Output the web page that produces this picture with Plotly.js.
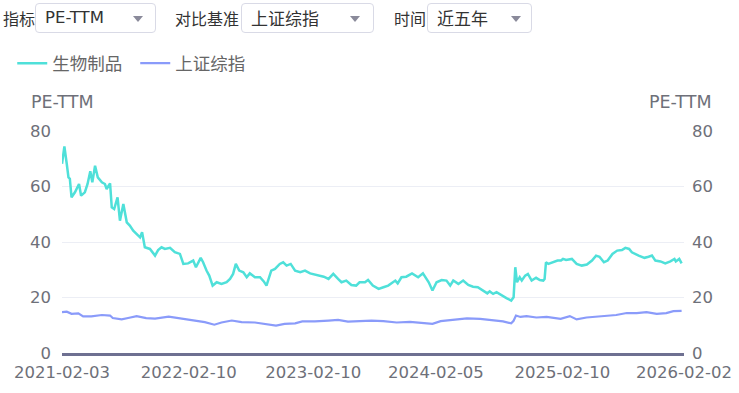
<!DOCTYPE html>
<html>
<head>
<meta charset="utf-8">
<script src="https://cdn.plot.ly/plotly-3.0.1.min.js"></script>
<style>
  html, body { margin: 0; padding: 0; background: #fff; }
  body { width: 739px; height: 393px; position: relative; overflow: hidden;
         font-family: "Noto Sans CJK SC", "Noto Sans", sans-serif; }
  #chart { position: absolute; left: 0; top: 0; width: 739px; height: 393px; }
  .lbl { position: absolute; top: 4px; height: 28px; line-height: 28px; font-size: 16px; color: #333; }
  .sel { position: absolute; top: 3px; height: 28px; border: 1px solid #d9dae6; border-radius: 4px;
         background: #fff; font-size: 17px; color: #333; line-height: 28px; box-sizing: content-box; }
  .sel span.t { position: absolute; left: 9px; top: 0; }
  .sel span.en { font-family: "DejaVu Sans", sans-serif; font-size: 16.5px; }
  .sel span.a { position: absolute; top: 12px; width: 0; height: 0;
                border-left: 5px solid transparent; border-right: 5px solid transparent; border-top: 6px solid #8a8a9a; }
</style>
</head>
<body>
<div id="chart"></div>
<div class="lbl" style="left:3px">指标</div>
<div class="sel" style="left:35px;width:119px"><span class="t en">PE-TTM</span><span class="a" style="left:97px"></span></div>
<div class="lbl" style="left:175px">对比基准</div>
<div class="sel" style="left:241px;width:131px"><span class="t">上证综指</span><span class="a" style="left:108px"></span></div>
<div class="lbl" style="left:394px">时间</div>
<div class="sel" style="left:427px;width:103px"><span class="t">近五年</span><span class="a" style="left:83px"></span></div>
<script>
// ---- data ----
const seriesNames = ['生物制品', '上证综指'];
const axisTitle = 'PE-TTM';
const tickDates = ['2021-02-03', '2022-02-10', '2023-02-10', '2024-02-05', '2025-02-10', '2026-02-02'];

const bioDates = [
'2021-02-03','2021-02-10','2021-02-17','2021-02-22','2021-02-26','2021-03-03','2021-03-13','2021-03-25','2021-03-31','2021-04-11',
'2021-04-19','2021-04-27','2021-05-03','2021-05-11','2021-05-19','2021-05-31','2021-06-09','2021-06-14','2021-06-24','2021-06-29',
'2021-07-06','2021-07-16','2021-07-23','2021-08-02','2021-08-12','2021-08-21','2021-08-31','2021-09-10','2021-09-20','2021-09-26',
'2021-10-04','2021-10-19','2021-11-03','2021-11-12','2021-11-22','2021-12-02','2021-12-17','2021-12-31','2022-01-15','2022-01-25',
'2022-02-08','2022-02-23','2022-03-03','2022-03-17','2022-03-24','2022-04-03','2022-04-11','2022-04-21','2022-05-03','2022-05-17',
'2022-06-01','2022-06-11','2022-06-20','2022-06-28','2022-07-08','2022-07-20','2022-07-30','2022-08-08','2022-08-23','2022-09-07',
'2022-09-18','2022-09-26','2022-10-10','2022-10-21','2022-11-04','2022-11-14','2022-11-24','2022-12-06','2022-12-19','2023-01-03',
'2023-01-17','2023-02-01','2023-02-20','2023-03-13','2023-03-27','2023-04-10','2023-04-24','2023-05-04','2023-05-18','2023-06-02',
'2023-06-16','2023-06-26','2023-07-12','2023-07-21','2023-08-04','2023-08-21','2023-09-04','2023-09-18','2023-10-09','2023-10-16',
'2023-10-27','2023-11-10','2023-11-27','2023-12-05','2023-12-15','2023-12-29','2024-01-15','2024-01-26','2024-02-07','2024-02-22',
'2024-03-07','2024-03-18','2024-03-27','2024-04-11','2024-04-25','2024-05-10','2024-05-24','2024-06-07','2024-06-24','2024-07-05',
'2024-07-12','2024-07-22','2024-08-01','2024-08-16','2024-08-30','2024-09-13','2024-09-20','2024-09-25','2024-09-30','2024-10-08',
'2024-10-14','2024-10-24','2024-11-01','2024-11-12','2024-11-25','2024-12-06','2024-12-16','2024-12-20','2024-12-24','2024-12-31',
'2025-01-14','2025-01-27','2025-02-06','2025-02-12','2025-02-21','2025-03-10','2025-03-24','2025-04-08','2025-04-23','2025-05-08',
'2025-05-20','2025-05-30','2025-06-12','2025-06-23','2025-07-07','2025-07-21','2025-08-04','2025-08-14','2025-08-25','2025-09-02',
'2025-09-22','2025-10-09','2025-10-21','2025-10-31','2025-11-10','2025-11-25','2025-12-09','2025-12-24','2026-01-05','2026-01-09',
'2026-01-19','2026-01-26'];
const bioValues = [
68.2,74.4,68.1,63.3,62.8,56.1,57.9,60.9,56.7,57.9,
60.9,65.5,61.5,67.5,63.3,61.5,60.9,59.1,61.1,52.5,
51.9,56.1,47.7,53.7,47.1,45.9,44.1,42.9,41.7,43.5,
38.1,37.5,35.1,37.1,38.1,37.5,37.9,36.3,35.7,32.1,
32.3,33.3,30.9,34.3,32.7,29.7,27.9,24.3,25.5,24.9,
25.5,26.7,28.5,32.1,29.7,29.1,27.3,28.7,27.3,27.3,
25.8,24.3,29.7,30.3,32.1,32.7,31.5,32.1,29.7,29.1,
29.7,28.7,28.2,27.5,26.7,28.5,26.7,25.5,26.1,24.5,
24.3,25.5,25.5,26.3,24.3,23.1,23.7,24.3,26.1,25.1,
27.3,27.5,28.7,28.2,27.3,28.7,25.5,22.5,25.5,26.3,
26.1,24.3,26.1,24.9,26.1,24.5,23.9,23.7,22.2,21.5,
22.2,21.3,21.9,20.7,19.8,18.9,20.1,30.9,25.5,27.3,
26.1,27.9,28.5,26.1,27.1,26.3,26.1,26.7,32.7,32.1,
32.7,33.3,33.3,33.9,33.5,33.9,32.1,31.5,31.9,33.3,
35.1,34.7,32.7,33.3,35.7,36.9,37.1,37.9,37.5,36.3,
35.1,34.3,34.7,35.1,33.3,33.0,32.3,33.0,33.9,33.0,
33.9,32.3];

const shDates = [
'2021-02-03','2021-02-17','2021-03-03','2021-03-23','2021-04-06','2021-04-30','2021-05-31','2021-06-24','2021-07-02','2021-07-28',
'2021-08-16','2021-09-10','2021-10-08','2021-11-03','2021-12-13','2022-01-10','2022-02-08','2022-03-10','2022-03-29','2022-04-26',
'2022-05-17','2022-06-16','2022-07-15','2022-08-23','2022-09-21','2022-10-24','2022-11-18','2022-12-19','2023-01-09','2023-02-15',
'2023-03-27','2023-04-24','2023-05-23','2023-06-21','2023-07-31','2023-09-04','2023-10-13','2023-11-21','2023-12-29','2024-01-26',
'2024-02-19','2024-03-18','2024-05-06','2024-06-14','2024-07-22','2024-08-20','2024-09-13','2024-09-20','2024-09-27','2024-10-10',
'2024-10-28','2024-11-26','2024-12-26','2025-02-05','2025-03-04','2025-03-24','2025-04-22','2025-06-10','2025-07-18','2025-08-18',
'2025-09-16','2025-10-15','2025-11-14','2025-12-12','2026-01-02','2026-01-26'];
const shValues = [
14.7,14.9,14.1,14.3,13.2,13.2,13.7,13.5,12.6,12.1,
12.6,13.3,12.6,12.4,13.1,12.6,11.9,11.4,11.1,10.2,
11.0,11.7,11.1,11.0,10.5,9.9,10.5,10.7,11.4,11.4,
11.7,11.9,11.3,11.4,11.7,11.5,11.0,11.2,10.7,10.5,
11.5,11.9,12.5,12.3,11.9,11.4,10.7,11.6,13.5,13.0,
13.3,12.8,13.0,12.3,13.3,12.1,12.8,13.3,13.7,14.4,
14.4,14.7,14.1,14.4,15.1,15.2];

// ---- chart ----
const axisColor = '#6e7079';
const gridColor = '#eceef5';
const tickFont = { family: 'DejaVu Sans, sans-serif', size: 16.5, color: axisColor };

const traces = [
  { x: bioDates, y: bioValues, name: seriesNames[0], type: 'scatter', mode: 'lines',
    line: { color: '#4fe0d9', width: 2.5 }, yaxis: 'y' },
  { x: shDates, y: shValues, name: seriesNames[1], type: 'scatter', mode: 'lines',
    line: { color: '#8a9bfa', width: 2.2 }, yaxis: 'y2' }
];

const yTicks = [0, 20, 40, 60, 80];
const layout = {
  width: 739, height: 393,
  margin: { l: 62, r: 55, t: 131, b: 40 },
  paper_bgcolor: '#fff', plot_bgcolor: '#fff',
  font: { family: 'Noto Sans CJK SC, Noto Sans, sans-serif', color: axisColor },
  showlegend: true,
  legend: {
    orientation: 'h', x: -0.08, xanchor: 'left', y: 1.305, yanchor: 'middle',
    font: { size: 17.5, color: '#666', family: 'Noto Sans CJK SC, sans-serif' },
    bgcolor: 'rgba(0,0,0,0)', itemclick: false, entrywidth: 78, entrywidthmode: 'pixels'
  },
  xaxis: {
    type: 'date', range: ['2021-02-03', '2026-02-02'],
    tickmode: 'array', tickvals: tickDates, ticktext: tickDates,
    showgrid: false, zeroline: false, showline: true, linecolor: '#6e7091', linewidth: 2.5,
    ticks: '', tickfont: tickFont, ticklabelstandoff: 3, fixedrange: true
  },
  yaxis: {
    range: [0, 80], tickmode: 'array', tickvals: yTicks,
    showgrid: true, gridcolor: gridColor, gridwidth: 1, zeroline: false, showline: false,
    ticks: '', tickfont: tickFont, ticklabelstandoff: 10, fixedrange: true
  },
  yaxis2: {
    range: [0, 80], tickmode: 'array', tickvals: yTicks, overlaying: 'y', side: 'right',
    showgrid: false, zeroline: false, showline: false,
    ticks: '', tickfont: tickFont, ticklabelstandoff: 7, fixedrange: true
  },
  annotations: [
    { text: axisTitle, xref: 'paper', yref: 'paper', x: 0, y: 1, yshift: 29, xanchor: 'center', yanchor: 'middle',
      showarrow: false, font: { size: 17.5, color: axisColor, family: 'DejaVu Sans, sans-serif' } },
    { text: axisTitle, xref: 'paper', yref: 'paper', x: 1, y: 1, xshift: -4, yshift: 29, xanchor: 'center', yanchor: 'middle',
      showarrow: false, font: { size: 17.5, color: axisColor, family: 'DejaVu Sans, sans-serif' } }
  ]
};

Plotly.newPlot('chart', traces, layout, { displayModeBar: false, staticPlot: true });
</script>
</body>
</html>
